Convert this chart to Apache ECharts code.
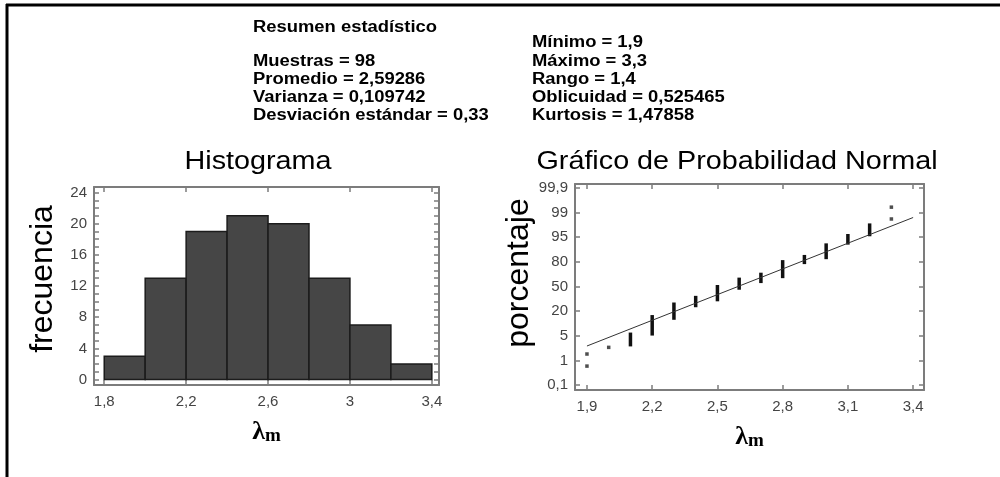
<!DOCTYPE html>
<html><head><meta charset="utf-8">
<script src="https://cdn.jsdelivr.net/npm/echarts@6/dist/echarts.min.js"></script>
<style>html,body{margin:0;padding:0;background:#fff}#c{width:1000px;height:477px}</style>
</head><body><div id="c"></div>
<script>
// ---- data ----
const binEdges = [1.8, 2.0, 2.2, 2.4, 2.6, 2.8, 3.0, 3.2, 3.4];
const binCounts = [3, 13, 19, 21, 20, 13, 7, 2];
const histXTicks = [1.8, 2.2, 2.6, 3.0, 3.4];
const histYTicks = [0, 4, 8, 12, 16, 20, 24];
const histYMinorTicks = [1, 2, 3, 5, 6, 7, 9, 10, 11, 13, 14, 15, 17, 18, 19, 21, 22, 23];
const probXTicks = [1.9, 2.2, 2.5, 2.8, 3.1, 3.4];
const probYLabels = ['0,1', '1', '5', '20', '50', '80', '95', '99', '99,9'];
const probYTicks = [0, 1, 2, 3, 4, 5, 6, 7, 8]; // label slots on the probability scale
// single observations: [λm, position on the probability scale]
const probPoints = [[1.9, 0.77], [1.9, 1.26], [2.0, 1.53], [3.3, 6.74], [3.3, 7.22]];
// stacks of tied observations: [λm, lowest position, highest position]
const probStacks = [
  [2.1, 1.63, 2.07], [2.2, 2.07, 2.78], [2.3, 2.71, 3.29], [2.4, 3.22, 3.56],
  [2.5, 3.46, 4.00], [2.6, 3.93, 4.30], [2.7, 4.20, 4.50], [2.8, 4.40, 5.01],
  [2.9, 4.97, 5.22], [3.0, 5.17, 5.69], [3.1, 5.76, 6.07], [3.2, 6.10, 6.50]
];
const fitLine = [[1.9, 1.585], [3.4, 6.80]];
const statsTitle = 'Resumen estadístico';
const statsLeft = ['Muestras = 98', 'Promedio = 2,59286', 'Varianza = 0,109742', 'Desviación estándar = 0,33'];
const statsRight = ['Mínimo = 1,9', 'Máximo = 3,3', 'Rango = 1,4', 'Oblicuidad = 0,525465', 'Kurtosis = 1,47858'];
const histTitle = 'Histograma';
const probTitle = 'Gráfico de Probabilidad Normal';
const histYName = 'frecuencia';
const probYName = 'porcentaje';

// ---- styling ----
const FONT = '"Liberation Sans", Arial, sans-serif';
const frame = '#7c7c7c';
const fmt = v => String(Math.round(v * 10) / 10).replace('.', ',');
const lambdaName = '{l|λ}{m|m}';
const lambdaRich = {
  l: { fontFamily: '"Liberation Serif", serif', fontWeight: 'bold', fontSize: 26, color: '#000' },
  m: { fontFamily: '"Liberation Serif", serif', fontWeight: 'bold', fontSize: 19, color: '#000', padding: [9, 0, 0, 0] }
};

function xAx(grid, min, max, ticks, pos, withLabels) {
  const a = {
    type: 'value', gridIndex: grid, min: min, max: max, position: pos,
    axisLine: { show: true, onZero: false, lineStyle: { color: frame, width: 2 } },
    axisTick: { show: true, inside: true, length: 5, customValues: ticks, lineStyle: { color: frame, width: 1.5 } },
    axisLabel: { show: withLabels, customValues: ticks, formatter: fmt, fontSize: 15, color: '#444', fontFamily: FONT, margin: 9 },
    splitLine: { show: false }
  };
  if (withLabels) {
    a.name = lambdaName; a.nameLocation = 'middle'; a.nameGap = 33;
    a.nameTextStyle = { rich: lambdaRich };
  }
  return a;
}
function yAx(grid, min, max, ticks, pos, opts) {
  return Object.assign({
    type: 'value', gridIndex: grid, min: min, max: max, position: pos,
    axisLine: { show: true, onZero: false, lineStyle: { color: frame, width: 2 } },
    axisTick: { show: true, inside: true, length: 5, customValues: ticks, lineStyle: { color: frame, width: 1.5 } },
    axisLabel: { show: false },
    splitLine: { show: false }
  }, opts || {});
}

const textEls = [];
function addText(x, y, text, size, weight, align, sx) {
  textEls.push({
    type: 'text', x: x, y: y, scaleX: sx, silent: true,
    style: { text: text, fontSize: size, fontWeight: weight, fontFamily: FONT, fill: '#000',
      textAlign: align, textVerticalAlign: 'middle' }
  });
}
addText(253, 28, statsTitle, 16, 'bold', 'left', 1.15);
statsLeft.forEach((t, i) => addText(253, 62 + i * 18, t, 16, 'bold', 'left', 1.15));
statsRight.forEach((t, i) => addText(532, 43 + i * 18.2, t, 16, 'bold', 'left', 1.15));
addText(258, 162, histTitle, 25, 'normal', 'center', 1.15);
addText(737, 162, probTitle, 25, 'normal', 'center', 1.15);

const option = {
  animation: false,
  backgroundColor: '#fff',
  graphic: [
    { type: 'line', silent: true, shape: { x1: 6, y1: 5, x2: 1000, y2: 5 }, style: { stroke: '#000', lineWidth: 3 } },
    { type: 'line', silent: true, shape: { x1: 7, y1: 4, x2: 7, y2: 477 }, style: { stroke: '#000', lineWidth: 3 } }
  ].concat(textEls),
  grid: [
    { left: 94, right: 561, top: 187, bottom: 92 },
    { left: 575, right: 76, top: 184, bottom: 87 }
  ],
  xAxis: [
    xAx(0, 1.75, 3.435, histXTicks, 'bottom', true),
    xAx(0, 1.75, 3.435, histXTicks, 'top', false),
    xAx(1, 1.845, 3.45, probXTicks, 'bottom', true),
    xAx(1, 1.845, 3.45, probXTicks, 'top', false)
  ],
  yAxis: [
    yAx(0, -0.7, 24.7, histYTicks, 'left', {
      axisLabel: { show: true, customValues: histYTicks, fontSize: 15, color: '#444', fontFamily: FONT, margin: 7 },
      name: histYName, nameLocation: 'middle', nameGap: 35,
      nameTextStyle: { fontSize: 32, color: '#000', fontFamily: FONT, padding: [0, 0, 0, 14] }
    }),
    yAx(0, -0.7, 24.7, histYTicks, 'right'),
    yAx(0, -0.7, 24.7, histYMinorTicks, 'left', { axisLine: { show: false } }),
    yAx(0, -0.7, 24.7, histYMinorTicks, 'right', { axisLine: { show: false } }),
    yAx(1, -0.2, 8.16, probYTicks, 'left', {
      axisLabel: { show: true, customValues: probYTicks, formatter: v => probYLabels[Math.round(v)],
        fontSize: 15, color: '#444', fontFamily: FONT, margin: 7 },
      name: probYName, nameLocation: 'middle', nameGap: 33,
      nameTextStyle: { fontSize: 32, color: '#000', fontFamily: FONT, padding: [0, 0, 0, 28] }
    }),
    yAx(1, -0.2, 8.16, probYTicks, 'right')
  ],
  series: [
    {
      type: 'custom', xAxisIndex: 0, yAxisIndex: 0,
      data: binCounts.map((c, i) => [binEdges[i], binEdges[i + 1], c]),
      encode: { x: [0, 1], y: 2 },
      renderItem: function (params, api) {
        const p0 = api.coord([api.value(0), 0]);
        const p1 = api.coord([api.value(1), api.value(2)]);
        return { type: 'rect', shape: { x: p0[0], y: p1[1], width: p1[0] - p0[0], height: p0[1] - p1[1] },
          style: { fill: '#464646', stroke: '#1c1c1c', lineWidth: 1.5 } };
      }
    },
    {
      type: 'line', xAxisIndex: 2, yAxisIndex: 4, data: fitLine, showSymbol: false, silent: true,
      lineStyle: { color: '#333', width: 1 }
    },
    {
      type: 'custom', xAxisIndex: 2, yAxisIndex: 4, data: probStacks,
      encode: { x: 0, y: [1, 2] },
      renderItem: function (params, api) {
        const a = api.coord([api.value(0), api.value(1)]);
        const b = api.coord([api.value(0), api.value(2)]);
        return { type: 'line', shape: { x1: a[0], y1: a[1] + 1.5, x2: b[0], y2: b[1] - 1.5 },
          style: { stroke: '#111', lineWidth: 3.5 } };
      }
    },
    {
      type: 'scatter', xAxisIndex: 2, yAxisIndex: 4, data: probPoints, symbol: 'rect', symbolSize: 3.5,
      itemStyle: { color: '#222' }
    }
  ]
};
const chart = echarts.init(document.getElementById('c'), null, { renderer: 'canvas' });
chart.setOption(option);
</script>
</body></html>
